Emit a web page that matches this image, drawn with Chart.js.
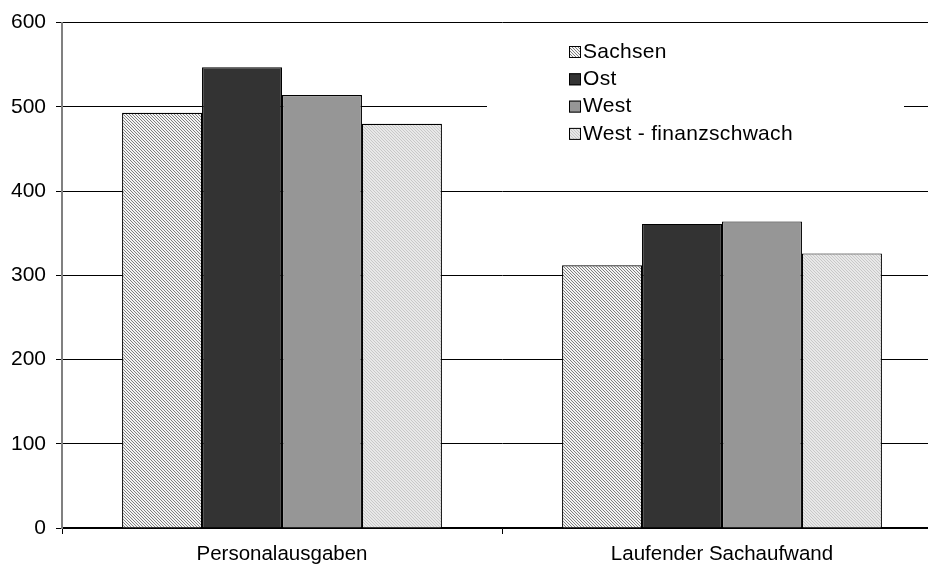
<!DOCTYPE html>
<html lang="de">
<head>
  <meta charset="UTF-8" />
  <title>Ausgaben je Einwohner</title>
  <script src="https://cdn.jsdelivr.net/npm/chart.js"></script>
  <style>
    html, body {
      margin: 0;
      padding: 0;
      background: #fff;
      overflow: hidden;
    }
    .wrap {
      width: 942px;
      height: 570px;
    }
  </style>
</head>
<body>
  <div class="wrap">
    <canvas id="chart" width="942" height="570"></canvas>
  </div>

  <script>
    const categories = ['Personalausgaben', 'Laufender Sachaufwand'];
    const seriesNames = ['Sachsen', 'Ost', 'West', 'West - finanzschwach'];
    const sachsen = [493, 312];
    const ost = [547, 361];
    const west = [514, 364];
    const westSchwach = [480, 326];
    const yTicks = [0, 100, 200, 300, 400, 500, 600];

    const FAMILY = 'Arial, "Liberation Sans", sans-serif';

    // fine diagonal hatch like the old excel fills
    function hatch(bg, fg) {
      const c = document.createElement('canvas');
      c.width = 3; c.height = 3;
      const g = c.getContext('2d');
      g.fillStyle = bg;
      g.fillRect(0, 0, 3, 3);
      g.fillStyle = fg;
      for (let i = 0; i < 3; i++) g.fillRect(i, i, 1, 1);
      return document.getElementById('chart').getContext('2d').createPattern(c, 'repeat');
    }

    const fills = [
      hatch('#f4f4f4', '#808080'),
      '#333333',
      '#969696',
      hatch('#e8e8e8', '#c8c8c8')
    ];

    // legend inside the plot, white box hides the gridline behind it
    const boxLegend = {
      id: 'boxLegend',
      afterDatasetsDraw(chart) {
        const ctx = chart.ctx;
        ctx.save();
        ctx.fillStyle = '#fff';
        ctx.fillRect(487, 28, 417, 130);
        ctx.font = '21px ' + FAMILY;
        ctx.letterSpacing = '0.3px';
        ctx.textBaseline = 'middle';
        chart.data.datasets.forEach((ds, i) => {
          const y = 51 + i * 27.3;
          ctx.fillStyle = fills[i];
          ctx.fillRect(569, y - 5, 12, 12);
          ctx.strokeStyle = '#000';
          ctx.lineWidth = 1;
          ctx.strokeRect(569.5, y - 4.5, 11, 11);
          ctx.fillStyle = '#000';
          ctx.fillText(ds.label, 583, y + 1);
        });
        ctx.restore();
      }
    };

    new Chart(document.getElementById('chart'), {
      type: 'bar',
      data: {
        labels: categories,
        datasets: [sachsen, ost, west, westSchwach].map((d, i) => ({
          label: seriesNames[i],
          data: d,
          backgroundColor: fills[i],
          borderColor: '#000',
          borderWidth: 1.2,
          categoryPercentage: 0.727,
          barPercentage: 1
        }))
      },
      options: {
        responsive: false,
        animation: false,
        layout: { padding: { top: 20, right: 0, left: 0, bottom: 0 } },
        plugins: {
          legend: { display: false },
          tooltip: { enabled: false }
        },
        scales: {
          x: {
            offset: true,
            grid: {
              offset: true,
              drawOnChartArea: false,
              color: '#000',
              tickLength: 6
            },
            border: { color: '#000', width: 1.5 },
            ticks: { color: '#000', font: { family: FAMILY, size: 20.5 }, padding: 8 },
            afterFit(scale) { scale.height = 42; }
          },
          y: {
            min: 0,
            max: 600,
            afterBuildTicks(scale) {
              scale.ticks = yTicks.map(v => ({ value: v }));
            },
            grid: {
              color: '#000',
              lineWidth: 1,
              tickLength: 6
            },
            border: { color: '#808080', width: 2 },
            ticks: { color: '#000', font: { family: FAMILY, size: 21 }, padding: 10 },
            afterFit(scale) { scale.width = 62; }
          }
        }
      },
      plugins: [boxLegend]
    });
  </script>
</body>
</html>
